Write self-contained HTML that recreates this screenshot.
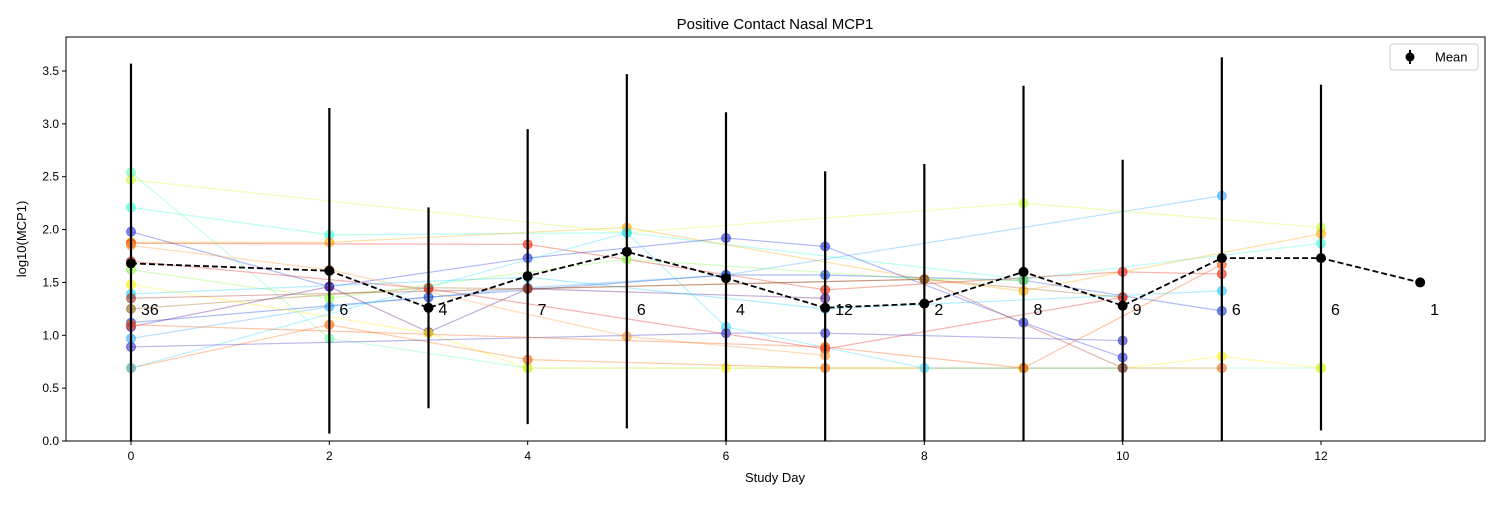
<!DOCTYPE html>
<html><head><meta charset="utf-8"><style>
body{margin:0;background:#fff;}
svg{font-family:"Liberation Sans","DejaVu Sans",sans-serif;}
</style></head><body>
<svg id="c" width="1500" height="500" xmlns="http://www.w3.org/2000/svg"></svg>
<script>
const meanDays=[0,2,3,4,5,6,7,8,9,10,11,12,13];
const meanVals=[1.68,1.61,1.26,1.56,1.79,1.54,1.26,1.30,1.60,1.28,1.73,1.73,1.50];
const errTop=[3.57,3.15,2.21,2.95,3.47,3.11,2.55,2.62,3.36,2.66,3.63,3.37,1.50];
const errBot=[-0.2,0.07,0.31,0.16,0.12,-0.1,-0.1,-0.1,-0.1,-0.1,-0.1,0.10,1.50];
const counts=[36,6,4,7,6,4,12,2,8,9,6,6,1];
const xTicks=[0,2,4,6,8,10,12];
const yTicks=[0,0.5,1,1.5,2,2.5,3,3.5];
const subjColors=["#66ffaa","#ccff33","#33ffdd","#ffaa00","#ee2200","#2233ee","#33aaff","#1144dd","#551188","#996611","#ffee00","#ff6600","#dd2222","#33ddff","#3333cc","#88ff44","#ff9933","#22ccff","#aa3322","#ff5500"];
const subjDays=[[0,2,4,9,12],[0,5,9,12],[0,2,5,9,12],[0,2,5,8,9,12],[0,4,7,10,11],[0,2,4,6,7,9,10],[0,2,4,6,11],[0,3,6,7,9,11],[0,2,3,4,7],[0,3,4,8,10],[0,3,4,6,9,10,11,12],[0,2,4,7,10,11],[0,3,7,10],[0,5,6,8,10],[0,6,7,10],[0,2,5,8,9],[0,2,5,7],[0,4,7,11],[0,4,8,10],[0,7,9,11]];
const subjVals=[[2.54,0.97,0.69,0.69,0.69],[2.47,1.97,2.25,2.02],[2.21,1.95,1.97,1.53,1.87],[1.88,1.88,2.02,1.53,1.42,1.96],[1.87,1.86,1.43,1.60,1.58],[1.98,1.46,1.73,1.92,1.84,1.12,0.79],[0.97,1.27,1.45,1.57,2.32],[1.12,1.36,1.57,1.57,1.52,1.23],[1.08,1.46,1.03,1.44,1.35],[1.25,1.45,1.44,1.53,1.36],[1.48,1.02,0.69,0.69,0.69,0.69,0.80,0.69],[0.69,1.10,0.77,0.69,0.69,0.69],[1.70,1.44,0.87,1.36],[0.69,1.97,1.08,0.69,0.69],[0.89,1.02,1.02,0.95],[1.62,1.35,1.72,1.53,1.52],[1.85,1.62,0.99,0.81],[1.39,1.55,1.25,1.42],[1.35,1.44,1.53,0.69],[1.10,0.89,0.69,1.67]];
const svg=document.getElementById('c');
const NS="http://www.w3.org/2000/svg";
const L=66,R=1485,T=37,B=441;
const xs=d=>131+(1321-131)*d/12;
const ys=v=>441-v*(370/3.5);
function el(t,a,p){const e=document.createElementNS(NS,t);for(const k in a)e.setAttribute(k,a[k]);(p||svg).appendChild(e);return e;}
const defs=el('defs',{});const cp=el('clipPath',{id:'clip'},defs);el('rect',{x:L,y:T,width:R-L,height:B-T},cp);
const g=el('g',{'clip-path':'url(#clip)'});
subjDays.forEach((ds,i)=>{
 const c=subjColors[i%subjColors.length];
 const pl=el('polyline',{points:ds.map((d,j)=>xs(d)+','+ys(subjVals[i][j])).join(' '),fill:'none',stroke:c,'stroke-width':1.2,'stroke-opacity':0.35},g);
 
 
 ds.forEach((d,j)=>{const m=el('circle',{cx:xs(d),cy:ys(subjVals[i][j]),r:4.5,fill:c,'fill-opacity':0.6,stroke:c,'stroke-opacity':0.6},g);
 
 });
});
meanDays.forEach((d,i)=>{
 const e=el('line',{x1:xs(d),x2:xs(d),y1:ys(errTop[i]),y2:ys(errBot[i]),stroke:'#000','stroke-width':2.2},g);
 
 
});
const ml=el('polyline',{points:meanDays.map((d,i)=>xs(d)+','+ys(meanVals[i])).join(' '),fill:'none',stroke:'#000','stroke-width':1.8,'stroke-dasharray':'6,3'},g);


meanDays.forEach((d,i)=>{
 const m=el('circle',{cx:xs(d),cy:ys(meanVals[i]),r:5,fill:'#000'},g);
 
 
 const t=el('text',{x:xs(d)+10,y:ys(1.25)+6,'font-size':16,fill:'#000'});t.textContent=counts[i];
 
 
});
const fr=el('rect',{x:L,y:T,width:R-L,height:B-T,fill:'none',stroke:'#000','stroke-width':1});

xTicks.forEach(v=>{el('line',{x1:xs(v),x2:xs(v),y1:B,y2:B+4,stroke:'#000'});
 const t=el('text',{x:xs(v),y:B+19,'font-size':12,'text-anchor':'middle'});t.textContent=v;
 });
yTicks.forEach(v=>{el('line',{x1:L-4,x2:L,y1:ys(v),y2:ys(v),stroke:'#000'});
 const t=el('text',{x:L-7,y:ys(v)+4,'font-size':12,'text-anchor':'end'});t.textContent=v.toFixed(1);
 });
</script>
<svg style="position:absolute;left:0;top:0" width="1500" height="500" xmlns="http://www.w3.org/2000/svg">
<text x="775" y="29" font-size="15" text-anchor="middle" font-family="Liberation Sans,sans-serif">Positive Contact Nasal MCP1</text>
<text x="775" y="482" font-size="13" text-anchor="middle" font-family="Liberation Sans,sans-serif">Study Day</text>
<text transform="translate(26,239) rotate(-90)" font-size="13" text-anchor="middle" font-family="Liberation Sans,sans-serif">log10(MCP1)</text>
<g>
<rect x="1390" y="44" width="88" height="26" rx="3" fill="#fff" stroke="#ccc"/>
<line x1="1410" x2="1410" y1="50" y2="64" stroke="#000" stroke-width="2"/>
<circle cx="1410" cy="57" r="4.5" fill="#000"/>
<text x="1435" y="61.5" font-size="13" font-family="Liberation Sans,sans-serif">Mean</text>
</g>
</svg>
</body></html>
